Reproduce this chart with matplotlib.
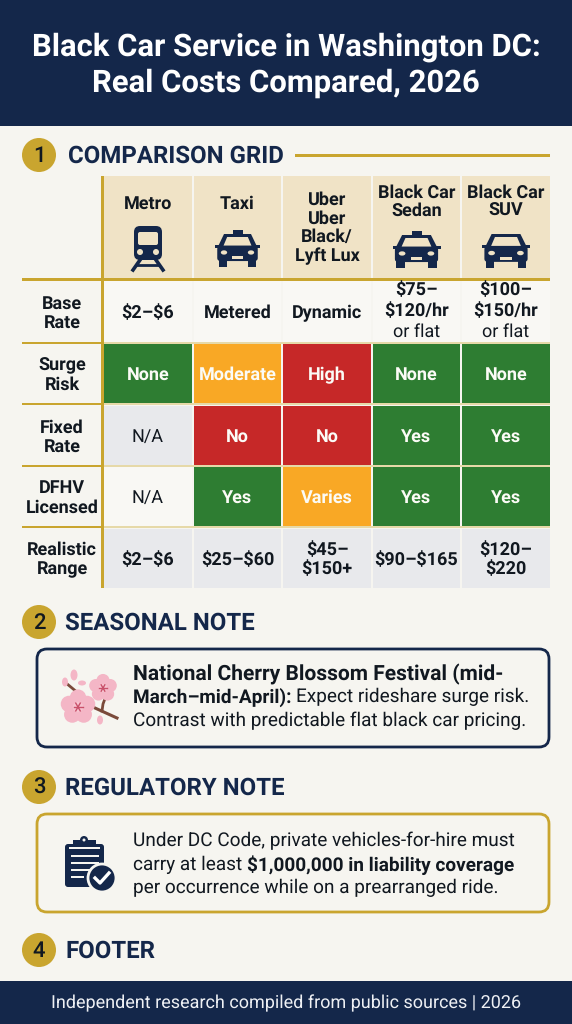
import matplotlib
matplotlib.use("Agg")
import matplotlib.pyplot as plt
from matplotlib.patches import Rectangle, FancyBboxPatch, Circle, Ellipse, Polygon

NAVY = "#14274a"
INK = "#111820"
GOLD = "#c9a52f"
BG = "#f6f5f0"
HEAD = "#f0e3c6"
GREEN = "#2e7d32"
ORANGE = "#f9a825"
RED = "#c62828"
GREY = "#e8e9ec"
WHITE = "#f9f8f4"
CELL = 13.2

plt.rcParams["font.family"] = ["Roboto", "DejaVu Sans"]
plt.rcParams["text.parse_math"] = False
plt.rcParams["text.hinting"] = "none"
plt.rcParams["text.hinting_factor"] = 1

title_lines = ["Black Car Service in Washington DC:", "Real Costs Compared, 2026"]
columns = ["Metro", "Taxi", "Uber\nUber\nBlack/\nLyft Lux", "Black Car\nSedan", "Black Car\nSUV"]
row_labels = ["Base\nRate", "Surge\nRisk", "Fixed\nRate", "DFHV\nLicensed", "Realistic\nRange"]
base_rate = ["$2–$6", "Metered", "Dynamic", "$75–\n$120/hr\nor flat", "$100–\n$150/hr\nor flat"]
surge_risk = ["None", "Moderate", "High", "None", "None"]
fixed_rate = ["N/A", "No", "No", "Yes", "Yes"]
dfhv = ["N/A", "Yes", "Varies", "Yes", "Yes"]
real_range = ["$2–$6", "$25–$60", "$45–\n$150+", "$90–$165", "$120–\n$220"]
rows = [base_rate, surge_risk, fixed_rate, dfhv, real_range]
fills = {"None": GREEN, "Yes": GREEN, "Moderate": ORANGE, "Varies": ORANGE, "High": RED, "No": RED}

col_x = [(104, 192), (194, 281), (283, 371), (373, 460), (462, 550)]
row_y = [(281, 342), (344, 403), (406, 465), (467, 526), (529, 588)]

fig = plt.figure(figsize=(5.72, 10.24), dpi=100, facecolor=BG)
ax = fig.add_axes([0, 0, 1, 1])
ax.set_xlim(0, 572)
ax.set_ylim(1024, 0)
ax.axis("off")


def rect(x0, y0, x1, y1, color, z=1):
    ax.add_patch(Rectangle((x0, y0), x1 - x0, y1 - y0, fc=color, ec="none", zorder=z))


def heading(n, label, y, xtext, size=17.3):
    ax.add_patch(Circle((39, y), 17, fc=GOLD, ec="none", zorder=2))
    ax.text(39, y + 0.5, n, ha="center", va="center", fontsize=16, fontweight="medium", color=INK, zorder=3)
    return ax.text(xtext, y + 1, label, ha="left", va="center", fontsize=size, fontweight="bold", color=NAVY, zorder=3)


def runs(x, y, parts, size=13.5):
    # lay out bold and regular pieces one after the other on a line
    r = fig.canvas.get_renderer()
    inv = ax.transData.inverted()
    for s, weight in parts:
        t = ax.text(x, y, s, ha="left", va="center", fontsize=size, fontweight=weight, color=INK, zorder=3)
        bb = t.get_window_extent(r)
        x = inv.transform((bb.x1, bb.y0))[0]


def car_body(cx, top, w, h, taxi=False):
    if taxi:
        rect(cx - 5, top - 4, cx + 5, top + 1, NAVY, 3)
    ax.add_patch(Polygon([(cx - w * .30, top), (cx + w * .30, top), (cx + w * .44, top + h * .40),
                          (cx - w * .44, top + h * .40)], fc=NAVY, ec="none", zorder=3))
    ax.add_patch(Polygon([(cx - w * .23, top + 3), (cx + w * .23, top + 3), (cx + w * .31, top + h * .35),
                          (cx - w * .31, top + h * .35)], fc=HEAD, ec="none", zorder=4))
    ax.add_patch(FancyBboxPatch((cx - w * .45, top + h * .36), w * .9, h * .46, boxstyle="round,pad=0,rounding_size=3",
                                fc=NAVY, ec="none", zorder=3))
    rect(cx - w * .42, top + h * .78, cx - w * .24, top + h, NAVY, 3)
    rect(cx + w * .24, top + h * .78, cx + w * .42, top + h, NAVY, 3)
    rect(cx - w * .5, top + h * .33, cx - w * .40, top + h * .41, NAVY, 3)
    rect(cx + w * .40, top + h * .33, cx + w * .5, top + h * .41, NAVY, 3)
    ax.add_patch(Ellipse((cx - w * .30, top + h * .56), w * .14, h * .13, fc=HEAD, ec="none", zorder=4))
    ax.add_patch(Ellipse((cx + w * .30, top + h * .56), w * .14, h * .13, fc=HEAD, ec="none", zorder=4))
    rect(cx - w * .12, top + h * .68, cx + w * .12, top + h * .76, HEAD, 4)


def train(cx, top):
    ax.add_patch(FancyBboxPatch((cx - 14, top), 28, 34, boxstyle="round,pad=0,rounding_size=6", fc=NAVY, ec="none", zorder=3))
    ax.add_patch(FancyBboxPatch((cx - 10, top + 6), 20, 13, boxstyle="round,pad=0,rounding_size=2", fc=HEAD, ec="none", zorder=4))
    ax.add_patch(Circle((cx - 8, top + 26), 3, fc=HEAD, ec="none", zorder=4))
    ax.add_patch(Circle((cx + 8, top + 26), 3, fc=HEAD, ec="none", zorder=4))
    ax.plot([cx - 8, cx - 15], [top + 34, top + 44], color=NAVY, lw=2.6, zorder=3)
    ax.plot([cx + 8, cx + 15], [top + 34, top + 44], color=NAVY, lw=2.6, zorder=3)
    ax.plot([cx - 11, cx + 11], [top + 39, top + 39], color=NAVY, lw=2, zorder=3)


def blossom(cx, cy, r):
    for dx, dy in [(0, -.62), (.6, -.2), (.38, .5), (-.38, .5), (-.6, -.2)]:
        ax.add_patch(Circle((cx + dx * r, cy + dy * r), r * .55, fc="#f4b6c6", ec="none", zorder=4))
    ax.add_patch(Circle((cx, cy), r * .35, fc="#f7c3d0", ec="none", zorder=4))
    for dx, dy in [(-.3, 0), (.3, 0), (.15, -.26), (-.15, -.26), (.15, .26), (-.15, .26)]:
        ax.plot([cx, cx + dx * r], [cy, cy + dy * r], color="#c9506a", lw=1, zorder=5)


# header and footer bands
rect(0, 0, 572, 126, NAVY)
rect(0, 981, 572, 1024, NAVY)
for line, y in zip(title_lines, [47, 83]):
    ax.text(286, y, line, ha="center", va="center", fontsize=22.6, fontweight="bold", color="white")
ax.text(286, 1003, "Independent research compiled from public sources | 2026", ha="center", va="center",
        fontsize=13.3, color="#eef0f4")

# section headings
heading("1", "COMPARISON GRID", 155, 68)
rect(295, 153.5, 550, 156.5, GOLD)
heading("2", "SEASONAL NOTE", 622, 65)
heading("3", "REGULATORY NOTE", 787, 65)
heading("4", "FOOTER", 950, 65)

# grid header
for (x0, x1), name in zip(col_x, columns):
    rect(x0, 176, x1, 278, HEAD)
    cx = (x0 + x1) / 2
    if "Uber" in name:
        ax.text(cx, 228, name, ha="center", va="center", fontsize=CELL, fontweight="bold", color=INK, linespacing=1.1)
    elif "Black" in name:
        ax.text(cx, 202, name, ha="center", va="center", fontsize=CELL, fontweight="bold", color=INK, linespacing=1.1)
    else:
        ax.text(cx, 204, name, ha="center", va="center", fontsize=CELL, fontweight="bold", color=INK)
train(148, 226)
car_body(237.5, 234, 45, 33, taxi=True)
car_body(416.5, 235, 48, 33, taxi=True)
car_body(506, 234, 48, 34)

# grid body
for i, (y0, y1) in enumerate(row_y):
    ym = (y0 + y1) / 2 + 1.5
    ax.text(62, ym, row_labels[i], ha="center", va="center", fontsize=CELL, fontweight="bold", color=INK, linespacing=1.15)
    for (x0, x1), val in zip(col_x, rows[i]):
        cx = (x0 + x1) / 2
        if i == 0:
            fc = WHITE
        elif i == 4:
            fc = GREY
        elif val == "N/A":
            fc = GREY if i == 2 else WHITE
        else:
            fc = fills[val]
        rect(x0, y0, x1, y1, fc)
        if val in fills:
            ax.text(cx, ym, val, ha="center", va="center", fontsize=CELL, fontweight="bold", color="#fbfbf6", zorder=3)
        elif val == "N/A":
            ax.text(cx, ym, val, ha="center", va="center", fontsize=CELL, color=INK, zorder=3)
        elif i == 0 and "\n" in val:
            a, b, c = val.split("\n")
            ax.text(cx, y0 + 9, a, ha="center", va="center", fontsize=CELL, fontweight="bold", color=INK, zorder=3)
            ax.text(cx, y0 + 30, b, ha="center", va="center", fontsize=CELL, fontweight="bold", color=INK, zorder=3)
            ax.text(cx, y0 + 51, c, ha="center", va="center", fontsize=CELL, color=INK, zorder=3)
        else:
            ax.text(cx, ym, val, ha="center", va="center", fontsize=CELL, fontweight="bold", color=INK, zorder=3, linespacing=1.15)

# grid rules
rect(101, 176, 104, 588, GOLD, 2)
rect(22, 278, 550, 281, GOLD, 2)
for (y0, y1) in row_y[:-1]:
    rect(22, y1, 102, y1 + 2, GOLD, 2)
    rect(104, y1, 550, y1 + 2, "#e6d9a8", 2)

# note boxes
ax.add_patch(FancyBboxPatch((37, 649), 512, 98, boxstyle="round,pad=0,rounding_size=10", fc=BG, ec=NAVY, lw=2, zorder=1))
ax.add_patch(FancyBboxPatch((37, 814), 512, 98, boxstyle="round,pad=0,rounding_size=10", fc=BG, ec=GOLD, lw=2, zorder=1))

# the lines differ a little in width in the reference
runs(133, 674, [("National Cherry Blossom Festival (mid-", "bold")], size=15.1)
runs(133, 697, [("March–mid-April): ", "bold"), ("Expect rideshare surge risk.", "normal")], size=13.7)
runs(133, 721, [("Contrast with predictable flat black car pricing.", "normal")], size=14.0)
runs(133, 841, [("Under DC Code, private vehicles-for-hire must", "normal")], size=14.0)
runs(133, 865, [("carry at least ", "normal"), ("$1,000,000 in liability coverage", "bold")], size=13.9)
runs(133, 888, [("per occurrence while on a prearranged ride.", "normal")], size=13.6)

# blossom icon
ax.plot([66, 78], [683, 693], color="#7a4a3a", lw=2, zorder=3)
ax.plot([117, 95], [718, 708], color="#7a4a3a", lw=2.2, zorder=3)
ax.plot([102, 103, 106], [711, 704, 696], color="#7a4a3a", lw=2, zorder=3)
blossom(78, 707, 15)
blossom(103, 688, 12)
for x, y, w, h in [(74, 675, 7, 11), (65, 682, 6, 9), (82, 683, 8, 5), (100, 720, 6, 9)]:
    ax.add_patch(Ellipse((x, y), w, h, fc="#f4b6c6", ec="none", zorder=4))

# clipboard icon
ax.add_patch(FancyBboxPatch((65, 844), 39, 43, boxstyle="round,pad=0,rounding_size=3", fc=NAVY, ec="none", zorder=3))
rect(73, 840, 96, 847, NAVY, 3)
ax.add_patch(Circle((84, 840), 4, fc=NAVY, ec="none", zorder=3))
ax.add_patch(Circle((84, 840), 1.5, fc=BG, ec="none", zorder=4))
rect(69, 847, 100, 849, BG, 4)
for y, x1 in [(855, 99), (862, 99), (869, 92), (876, 84)]:
    rect(71, y, x1, y + 2, BG, 4)
ax.add_patch(Circle((102, 878), 14, fc=NAVY, ec=BG, lw=2, zorder=5))
ax.plot([95, 100, 109], [878, 883, 873], color="white", lw=2.4, zorder=6)

fig.savefig("out.png", dpi=100, facecolor=BG)
